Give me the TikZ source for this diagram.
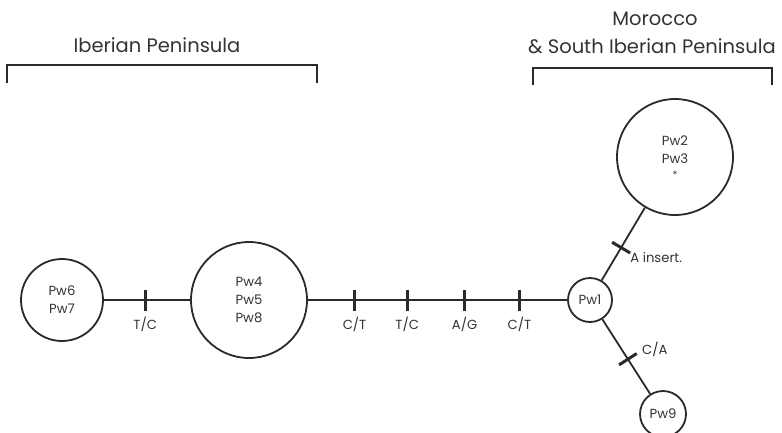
\documentclass[tikz,border=0pt]{standalone}
\usepackage{fontspec}
\setmainfont{Poppins}
\usetikzlibrary{positioning,calc}
\definecolor{ink}{HTML}{2A2A2A}
\definecolor{txt}{HTML}{333333}
\begin{document}
\begin{tikzpicture}[x=1pt,y=-1pt,
  hap/.style={circle,draw=ink,line width=1.8pt,inner sep=0pt,align=center,
              font=\fontsize{13.2}{18}\selectfont,text=txt},
  edge/.style={draw=ink,line width=1.8pt},
  tickline/.style={draw=ink,line width=3pt},
  mut/.style={font=\fontsize{13.2}{14}\selectfont,text=txt,inner sep=0pt},
  region/.style={font=\fontsize{19.5}{24}\selectfont,text=txt,inner sep=0pt},
  bracket/.style={draw=ink,line width=1.8pt}]
\useasboundingbox (0,0) rectangle (782,432);

% haplotypes
\node[hap,minimum size=82pt]  (p67) at (62,300)  {Pw6\\Pw7};
\node[hap,minimum size=116pt] (p458) at (249,300) {Pw4\\Pw5\\Pw8};
\node[hap,minimum size=44pt]  (p1) at (590,300)  {Pw1};
\node[hap,minimum size=116pt] (p23) at (675,157) {Pw2\\Pw3\\[-3pt]{\fontsize{10}{10}\selectfont *}};
\node[hap,minimum size=46pt]  (p9) at (663,414)  {Pw9};

% connections, with a named point for each mutation step
\path[edge] (p67) -- coordinate[pos=0.48] (m1) (p458);
\path[edge] (p458) -- coordinate[pos=0.18] (m2)
                       coordinate[pos=0.383] (m3)
                       coordinate[pos=0.605] (m4)
                       coordinate[pos=0.816] (m5) (p1);
\path[edge] (p1) -- coordinate[pos=0.45] (m6) (p23);
\path[edge] (p1) -- coordinate[pos=0.535] (m7) (p9);

% step marks across the connections
\foreach \m/\t in {m1/p458,m2/p1,m3/p1,m4/p1,m5/p1,m6/p23,m7/p9}
  \draw[tickline] ($(\m)!10.5pt!90:(\t)$) -- ($(\m)!10.5pt!-90:(\t)$);

% mutation labels
\node[mut,below=17pt of m1] {T/C};
\node[mut,below=17pt of m2] {C/T};
\node[mut,below=17pt of m3] {T/C};
\node[mut,below=17pt of m4] {A/G};
\node[mut,below=17pt of m5] {C/T};
\node[mut,anchor=west] at ($(m6)+(9,10)$) {A insert.};
\node[mut,anchor=west] at ($(m7)+(14,-10)$) {C/A};

% regions
\node[region] (ib) at (157,45) {Iberian Peninsula};
\draw[bracket] (7,83) -- (7,65) -- (317,65) -- (317,83);
\node[region] (mo) at (655,19) {Morocco};
\node[region] (si) at (652,46) {\& South Iberian Peninsula};
\draw[bracket] (533,85) -- (533,68) -- (772,68) -- (772,85);
\end{tikzpicture}
\end{document}
